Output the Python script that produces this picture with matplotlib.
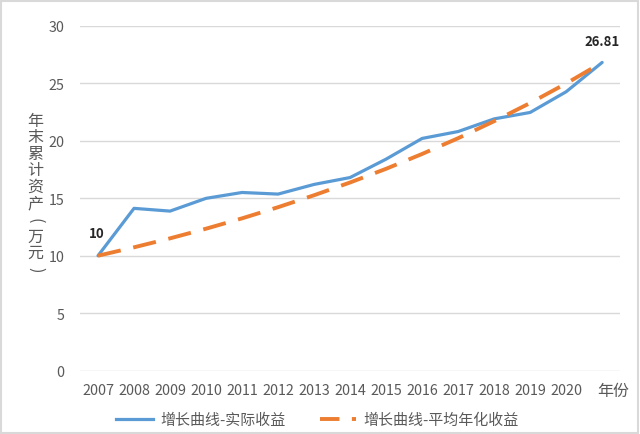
import matplotlib
matplotlib.use("Agg")
import matplotlib.pyplot as plt
from matplotlib.patches import Rectangle
from matplotlib.lines import Line2D

plt.rcParams['font.family'] = ['Noto Sans CJK SC', 'DejaVu Sans']

categories = ["2007", "2008", "2009", "2010", "2011", "2012", "2013", "2014",
              "2015", "2016", "2017", "2018", "2019", "2020", ""]
actual = [10, 14.12, 13.88, 14.99, 15.5, 15.36, 16.2, 16.8, 18.4, 20.2,
          20.8, 21.9, 22.46, 24.26, 26.81]
average = [10, 10.73, 11.51, 12.35, 13.25, 14.22, 15.26, 16.37, 17.56,
           18.85, 20.22, 21.70, 23.28, 24.98, 26.81]
yticks = [0, 5, 10, 15, 20, 25, 30]
series_names = ["增长曲线-实际收益", "增长曲线-平均年化收益"]
ylabel = "年末累计资产(万元)"
xlabel_extra = "年份"

W, H = 640, 435
fig = plt.figure(figsize=(6.4, 4.35), dpi=100)
ax = fig.add_axes([0.125, 0.1455, 0.844, 0.793])

x = list(range(len(categories)))
blue = "#5B9BD5"
orange = "#ED7D31"
ax.plot(x, actual, color=blue, lw=2.3, solid_capstyle='round', zorder=3)
ax.plot(x, average, color=orange, lw=2.8, dashes=(6, 3.3), zorder=3)

ax.set_xlim(-0.5, len(categories) - 0.5)
ax.set_ylim(0, 30)
ax.set_yticks(yticks)
ax.set_xticks(x)
ax.set_xticklabels(categories)
ax.tick_params(axis='both', length=0, colors="#595959", labelsize=10.3)
ax.tick_params(axis='x', pad=9)
ax.tick_params(axis='y', pad=11)
ax.grid(axis='y', color="#d9d9d9", lw=1)
ax.set_axisbelow(True)
for s in ax.spines.values():
    s.set_visible(False)

ax.text(len(categories) - 1 + 0.3, -1.0, xlabel_extra, ha='center', va='top',
        fontsize=11.5, color="#595959")

ax.annotate(f"{actual[0]:g}", (x[0], actual[0]), xytext=(-1, 11),
            textcoords='offset points', ha='center', va='bottom',
            fontsize=9.5, fontweight='bold', color="#262626")
ax.annotate(f"{actual[-1]:g}", (x[-1], actual[-1]), xytext=(0, 10.5),
            textcoords='offset points', ha='center', va='bottom',
            fontsize=9.5, fontweight='bold', color="#262626")

# vertical stacked y-axis title (parentheses turned to vertical form)
for i, ch in enumerate(ylabel):
    yc = 121.5 + 16.5 * i
    rot = -90 if ch in "()" else 0
    fig.text(35.5 / W, 1 - yc / H, ch, ha='center', va='center',
             fontsize=11.5, color="#595959", rotation=rot)

handles = [Line2D([], [], color=blue, lw=2.3),
           Line2D([], [], color=orange, lw=2.8, dashes=(5, 3.2))]
fig.legend(handles, series_names, loc='center', bbox_to_anchor=(0.496, 0.033),
           ncol=2, frameon=False, fontsize=10.8, handlelength=2.45,
           columnspacing=2.3, handletextpad=0.45, labelcolor="#595959")

fig.patches.append(Rectangle((0.002, 0.003), 0.995, 0.993, transform=fig.transFigure,
                             fill=False, edgecolor="#d9d9d9", lw=1.5))

fig.savefig("out.png", dpi=100)
